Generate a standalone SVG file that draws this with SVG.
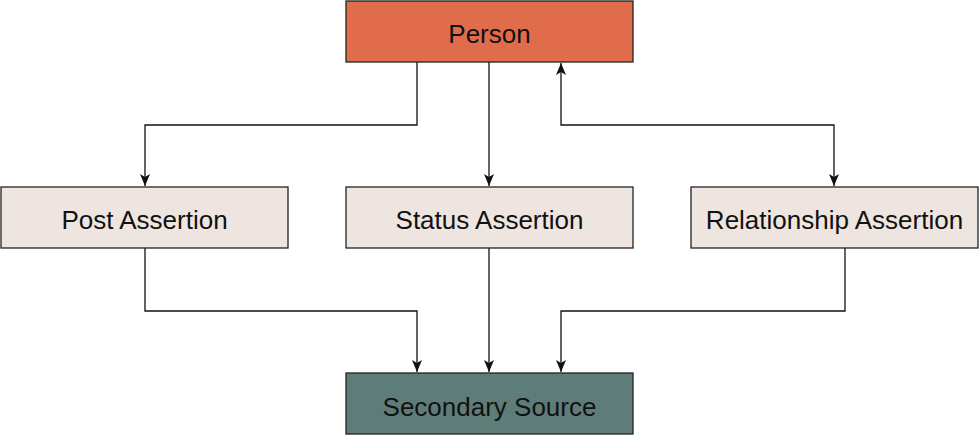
<svg xmlns="http://www.w3.org/2000/svg" width="980" height="437" viewBox="0 0 980 437">
<style>
.box{stroke:#222;stroke-width:1.3}
.person{fill:#E06C4B}
.assert{fill:#EEE5E0}
.src{fill:#5F7D78}
.lbl{font-family:"Liberation Sans",Arial,sans-serif;font-size:26px;fill:#111;text-anchor:middle;dominant-baseline:central}
.edge{fill:none;stroke:#111;stroke-width:1.3}
</style>
<defs>
<marker id="arr" viewBox="0 0 12 10" refX="12" refY="5" markerWidth="12" markerHeight="10" markerUnits="userSpaceOnUse" orient="auto-start-reverse">
<path d="M0,0 L12,5 L0,10 L3,5 z" fill="#111"/>
</marker>
</defs>
<rect width="980" height="437" fill="#fff"/>
<g id="edges">
<path class="edge" d="M417,62 V125 H145 V186" marker-end="url(#arr)"/>
<path class="edge" d="M489,62 V186" marker-end="url(#arr)"/>
<path class="edge" d="M561,63 V125 H834 V186" marker-start="url(#arr)" marker-end="url(#arr)"/>
<path class="edge" d="M145,248 V311 H417 V372" marker-end="url(#arr)"/>
<path class="edge" d="M489,248 V372" marker-end="url(#arr)"/>
<path class="edge" d="M845,248 V311 H561 V372" marker-end="url(#arr)"/>
</g>
<g id="person"><rect class="box person" x="346" y="1" width="287" height="61"/><text class="lbl" x="489.5" y="34">Person</text></g>
<g id="post"><rect class="box assert" x="1" y="187" width="287" height="61"/><text class="lbl" x="144.5" y="220">Post Assertion</text></g>
<g id="status"><rect class="box assert" x="346" y="187" width="287" height="61"/><text class="lbl" x="489.5" y="220">Status Assertion</text></g>
<g id="relationship"><rect class="box assert" x="691" y="187" width="287" height="61"/><text class="lbl" x="834.5" y="220">Relationship Assertion</text></g>
<g id="secondary"><rect class="box src" x="346" y="373" width="287" height="61"/><text class="lbl" x="489.5" y="407">Secondary Source</text></g>
</svg>
